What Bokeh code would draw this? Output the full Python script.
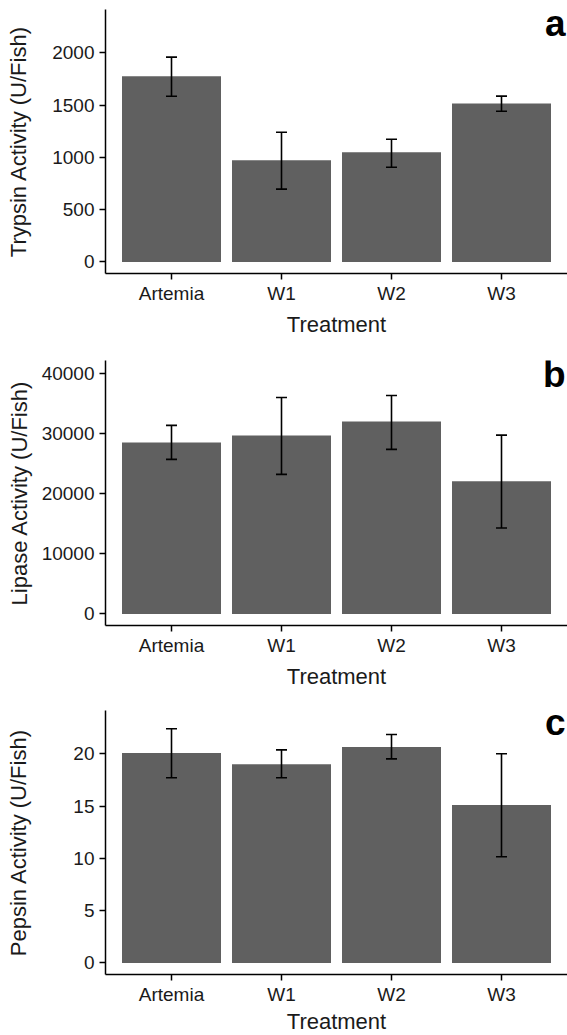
from bokeh.plotting import figure
from bokeh.models import Range1d, FixedTicker, Whisker, ColumnDataSource, Label, TeeHead
from bokeh.layouts import column
from bokeh.embed import file_html
from bokeh.resources import INLINE

treatments = ["Artemia", "W1", "W2", "W3"]

trypsin_mean = [1777, 973, 1050, 1516]
trypsin_upper = [1959, 1241, 1174, 1586]
trypsin_lower = [1585, 696, 906, 1442]

lipase_mean = [28490, 29650, 31970, 22020]
lipase_upper = [31310, 35950, 36280, 29700]
lipase_lower = [25670, 23180, 27330, 14280]

pepsin_mean = [20.08, 19.0, 20.63, 15.09]
pepsin_upper = [22.38, 20.37, 21.83, 19.99]
pepsin_lower = [17.7, 17.7, 19.51, 10.15]

trypsin_ticks = [0, 500, 1000, 1500, 2000]
lipase_ticks = [0, 10000, 20000, 30000, 40000]
pepsin_ticks = [0, 5, 10, 15, 20]

FONT = "Liberation Sans"
BAR = "#606060"
TXT = "#1a1a1a"


def panel(ylabel, means, lower, upper, ticks, yr, letter, letter_y,
          top, bottom, frame_h, title_standoff, x_title_standoff):
    pos = list(range(1, len(treatments) + 1))
    src = ColumnDataSource(dict(x=pos, top=means, lower=lower, upper=upper))
    p = figure(frame_width=462, frame_height=frame_h,
               x_range=Range1d(0.4, 4.6), y_range=Range1d(*yr),
               output_backend="svg", toolbar_location=None,
               min_border_left=105, min_border_right=0,
               min_border_top=top, min_border_bottom=bottom)
    p.outline_line_color = None
    p.grid.visible = False
    p.background_fill_color = "white"
    p.border_fill_color = "white"

    p.vbar(x="x", top="top", bottom=0, width=0.9, source=src,
           fill_color=BAR, line_color=None)
    w = Whisker(source=src, base="x", upper="upper", lower="lower",
                line_color="black", line_width=1.6,
                upper_head=TeeHead(size=11, line_color="black", line_width=1.6),
                lower_head=TeeHead(size=11, line_color="black", line_width=1.6))
    w.level = "annotation"
    p.add_layout(w)

    for ax in (p.xaxis[0], p.yaxis[0]):
        ax.axis_line_width = 1.5
        ax.axis_line_color = "black"
        ax.major_tick_line_width = 1.5
        ax.major_tick_line_color = "black"
        ax.major_tick_out = 6
        ax.major_tick_in = 0
        ax.minor_tick_line_color = None
        ax.major_label_text_font = FONT
        ax.major_label_text_font_size = "19px"
        ax.major_label_text_color = TXT
        ax.axis_label_text_font = FONT
        ax.axis_label_text_font_size = "22px"
        ax.axis_label_text_font_style = "normal"
        ax.axis_label_text_color = TXT

    p.xaxis.ticker = FixedTicker(ticks=pos)
    p.xaxis.major_label_overrides = {x: t for x, t in zip(pos, treatments)}
    p.xaxis.major_label_standoff = 3
    p.xaxis.axis_label = "Treatment"
    p.xaxis.axis_label_standoff = x_title_standoff

    p.yaxis.ticker = FixedTicker(ticks=ticks)
    p.yaxis.major_label_standoff = 5
    p.yaxis.axis_label = ylabel
    p.yaxis.axis_label_standoff = title_standoff

    p.add_layout(Label(x=4.6, y=letter_y, text=letter, text_align="right",
                       text_baseline="bottom",
                       x_offset=-2, text_font=FONT, text_font_size="37px",
                       text_font_style="bold", text_color="black"))
    return p


p1 = panel("Trypsin Activity (U/Fish)", trypsin_mean, trypsin_lower, trypsin_upper,
           trypsin_ticks, (-111, 2415), "a", 2088, 9, 72, 264, 18, 5)
p2 = panel("Lipase Activity (U/Fish)", lipase_mean, lipase_lower, lipase_upper,
           lipase_ticks, (-1924, 42090), "b", 36400, 15, 65, 265, 7, 5)
p3 = panel("Pepsin Activity (U/Fish)", pepsin_mean, pepsin_lower, pepsin_upper,
           pepsin_ticks, (-1.1, 24.13), "c", 21.01, 19, 56, 264, 39, 1)

layout = column(p1, p2, p3, spacing=0)
open("out.html", "w").write(file_html(layout, INLINE))
